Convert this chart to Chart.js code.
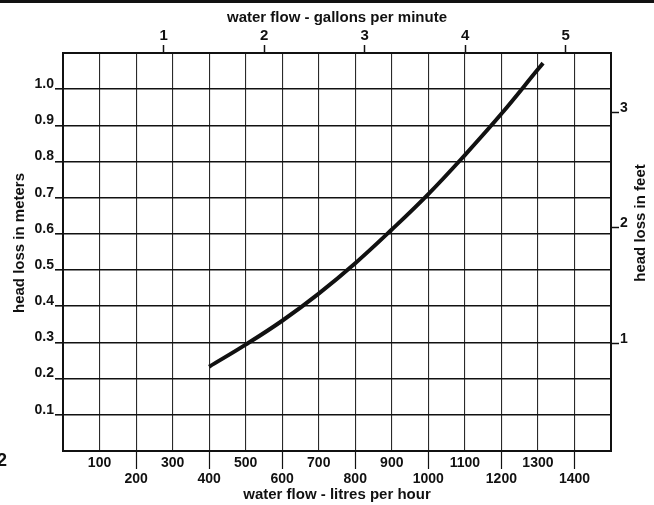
<!DOCTYPE html>
<html><head><meta charset="utf-8">
<script src="https://cdn.jsdelivr.net/npm/chart.js@4/dist/chart.umd.min.js"></script>
<style>
html,body{margin:0;padding:0;background:#fff;overflow:hidden}
#wrap{position:relative;width:654px;height:505px}
#band{position:absolute;left:0;top:0;width:654px;height:3px;background:#111}
</style></head><body>
<div id="wrap"><canvas id="c" width="654" height="505"></canvas><div id="band"></div></div>
<script>
// ---- data ----
const flowLitresPerHour = [400, 500, 600, 700, 800, 900, 1000, 1100, 1200, 1300, 1314];
const headLossMeters    = [0.233, 0.294, 0.36, 0.435, 0.519, 0.612, 0.71, 0.818, 0.932, 1.055, 1.072];

const litreTicks  = [100, 200, 300, 400, 500, 600, 700, 800, 900, 1000, 1100, 1200, 1300, 1400];
const meterTicks  = [0.1, 0.2, 0.3, 0.4, 0.5, 0.6, 0.7, 0.8, 0.9, 1.0];
const gallonTicks = [1, 2, 3, 4, 5];
const feetTicks   = [1, 2, 3];

const litreRange  = [0, 1500];
const meterRange  = [0, 1.1];
const gallonRange = [0, 5.45];
const feetRange   = [0.065, 3.511];

const titleTop    = 'water flow - gallons per minute';
const titleBottom = 'water flow - litres per hour';
const titleLeft   = 'head loss in meters';
const titleRight  = 'head loss in feet';
const figureMark  = '2';

// ---- chart ----
const INK = '#111';
const FONT = '"Liberation Sans", Arial, sans-serif';
const tickFont = {family: FONT, size: 14, weight: 'bold'};
const titleFont = {family: FONT, size: 15, weight: 'bold'};

const extras = {
  id: 'extras',
  afterDraw(chart) {
    const ctx = chart.ctx, xs = chart.scales.x, area = chart.chartArea;
    const midY = (area.top + area.bottom) / 2;
    ctx.save();
    ctx.strokeStyle = INK; ctx.lineWidth = 1.2;
    litreTicks.forEach(v => {
      if (Math.round(v / 100) % 2 === 0) {
        const px = Math.round(xs.getPixelForValue(v)) + 0.5;
        ctx.beginPath(); ctx.moveTo(px, area.bottom); ctx.lineTo(px, area.bottom + 18); ctx.stroke();
      }
    });
    ctx.fillStyle = INK;
    ctx.font = 'bold 15px ' + FONT;
    ctx.textAlign = 'center'; ctx.textBaseline = 'middle';
    // right title
    ctx.save();
    ctx.translate(chart.scales.y2.right - 13, midY - 29);
    ctx.rotate(-Math.PI / 2);
    ctx.fillText(titleRight, 0, 0);
    ctx.restore();
    // left title
    ctx.save();
    ctx.translate(chart.scales.y.left + 20, midY - 9);
    ctx.rotate(-Math.PI / 2);
    ctx.fillText(titleLeft, 0, 0);
    ctx.restore();
    ctx.font = 'bold 18px ' + FONT;
    ctx.textAlign = 'left';
    ctx.fillText(figureMark, -3, area.bottom + 10);
    ctx.restore();
  }
};

new Chart(document.getElementById('c'), {
  type: 'scatter',
  data: {
    datasets: [{
      data: flowLitresPerHour.map((x, i) => ({x, y: headLossMeters[i]})),
      showLine: true,
      borderColor: INK,
      borderWidth: 4,
      pointRadius: 0,
      tension: 0.4,
      xAxisID: 'x', yAxisID: 'y'
    }]
  },
  options: {
    responsive: false,
    animation: false,
    devicePixelRatio: 1,
    layout: {padding: 0},
    plugins: {legend: {display: false}, tooltip: {enabled: false}},
    scales: {
      x: {
        type: 'linear', position: 'bottom', min: litreRange[0], max: litreRange[1],
        afterBuildTicks: s => { s.ticks = litreTicks.map(v => ({value: v})); },
        afterFit: s => { s.height = 54; },
        grid: {color: '#2a2a2a', lineWidth: 1.1, drawTicks: false},
        border: {display: true, color: INK, width: 2},
        ticks: {
          color: INK, font: {family: FONT, size: 14, weight: 'bold', lineHeight: 1.15}, padding: 4,
          maxRotation: 0, minRotation: 0, autoSkip: false,
          callback: v => (Math.round(v / 100) % 2 ? [String(v), ''] : ['', String(v)])
        },
        title: {display: true, text: titleBottom, color: INK, font: titleFont, padding: {top: 0, bottom: 1}}
      },
      x2: {
        type: 'linear', position: 'top', min: gallonRange[0], max: gallonRange[1],
        afterBuildTicks: s => { s.ticks = gallonTicks.map(v => ({value: v})); },
        afterFit: s => { s.height = 53; },
        grid: {drawOnChartArea: false, tickLength: 8, tickColor: INK, tickWidth: 1.5},
        border: {display: true, color: INK, width: 2},
        ticks: {color: INK, font: {family: FONT, size: 15, weight: 'bold'}, padding: 0, maxRotation: 0, autoSkip: false},
        title: {display: true, text: titleTop, color: INK, font: titleFont, padding: {top: 9, bottom: 0}}
      },
      y: {
        type: 'linear', position: 'left', min: meterRange[0], max: meterRange[1],
        afterBuildTicks: s => { s.ticks = meterTicks.map(v => ({value: v})); },
        afterFit: s => { s.width = 63; },
        grid: {color: INK, lineWidth: 1.6, tickLength: 8, tickColor: INK},
        border: {display: true, color: INK, width: 2},
        ticks: {color: INK, font: tickFont, padding: 1, labelOffset: -5, callback: v => v.toFixed(1)}
      },
      y2: {
        type: 'linear', position: 'right', min: feetRange[0], max: feetRange[1],
        afterBuildTicks: s => { s.ticks = feetTicks.map(v => ({value: v})); },
        afterFit: s => { s.width = 43; },
        grid: {drawOnChartArea: false, tickLength: 8, tickColor: INK, tickWidth: 1.5},
        border: {display: true, color: INK, width: 2},
        ticks: {color: INK, font: tickFont, padding: 1, labelOffset: -4}
      }
    }
  },
  plugins: [extras]
});
</script>
</body></html>
